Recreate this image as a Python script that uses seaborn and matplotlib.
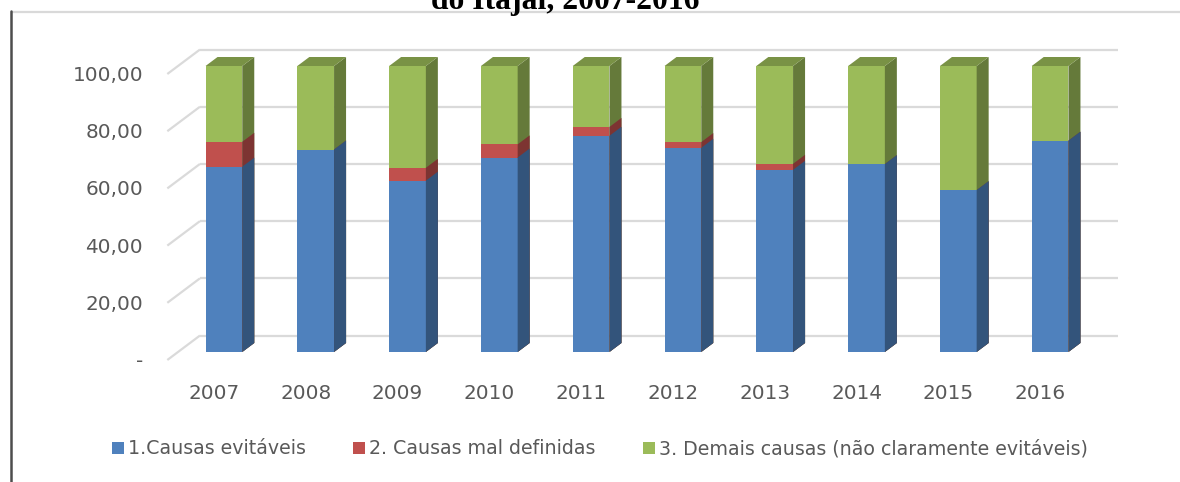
import numpy as np
import matplotlib
matplotlib.use("Agg")
import matplotlib.pyplot as plt
from matplotlib.patches import Polygon
from matplotlib.lines import Line2D
from matplotlib.transforms import offset_copy
import matplotlib.colors as mcolors
import seaborn as sns

# values (percent of deaths)
years = ["2007", "2008", "2009", "2010", "2011", "2012", "2013", "2014", "2015", "2016"]
evitaveis = [64.8, 70.8, 59.9, 68.0, 75.6, 71.4, 63.7, 65.7, 56.6, 73.9]
mal_definidas = [8.7, 0.0, 4.5, 4.6, 3.1, 2.0, 2.1, 0.0, 0.0, 0.0]
demais = [26.5, 29.2, 35.6, 27.4, 21.3, 26.6, 34.2, 34.3, 43.4, 26.1]

series_names = ["1.Causas evitáveis", "2. Causas mal definidas",
                "3. Demais causas (não claramente evitáveis)"]
series_colors = ["#4F81BD", "#C0504D", "#9BBB59"]
ytick_values = [0, 20, 40, 60, 80, 100]
ytick_labels = ["-", "20,00", "40,00", "60,00", "80,00", "100,00"]
title = "do Itajaí, 2007-2016"

sns.set_style("white")
plt.rcParams['font.family'] = ['DejaVu Sans']

W, H = 1180, 482
fig = plt.figure(figsize=(W / 100, H / 100), dpi=100)
fig.patch.set_facecolor("white")
ax = fig.add_axes([178 / W, (H - 352) / H, (1096 - 178) / W, 286 / H])
ax.axis("off")

# cumulative heights, drawn from the top segment down so lower ones sit in front
stacks = np.cumsum([evitaveis, mal_definidas, demais], axis=0)
layers = []
for j, k in enumerate([2, 1, 0]):
    n0 = len(ax.patches)
    sns.barplot(x=years, y=stacks[k], color=series_colors[k], saturation=1,
                width=0.4, linewidth=0, errorbar=None, label=series_names[k],
                zorder=3 + j, ax=ax)
    layers.append((j, k, ax.patches[n0:]))

ax.set_xlim(-0.5, len(years) - 0.5)
ax.set_ylim(0, 100)
if ax.get_legend() is not None:
    ax.get_legend().remove()

# depth vector of the fake 3D (12 px right, 9 px up) in data units
inv = ax.transData.inverted()
o = ax.transData.transform((0, 0))
ddx, ddy = inv.transform(o + np.array([12, 9])) - inv.transform(o)


def shade(c, f):
    r, g, b = mcolors.to_rgb(c)
    return (r * f, g * f, b * f)


for j, k, patches in layers:
    for p in patches:
        x0, w, h = p.get_x(), p.get_width(), p.get_height()
        x1 = x0 + w
        side = [(x1, 0), (x1 + ddx, ddy), (x1 + ddx, h + ddy), (x1, h)]
        ax.add_patch(Polygon(side, closed=True, facecolor=shade(series_colors[k], 0.65),
                             edgecolor="none", zorder=3 + j, clip_on=False))
        if j == 0:
            top = [(x0, h), (x1, h), (x1 + ddx, h + ddy), (x0 + ddx, h + ddy)]
            ax.add_patch(Polygon(top, closed=True, facecolor=shade(series_colors[k], 0.78),
                                 edgecolor="none", zorder=3, clip_on=False))
        p.set_clip_on(False)

# back wall gridlines and the left diagonals
wall, floor = 1.83, -0.89
x_left, x_right = ax.get_xlim()
grid_kw = dict(color="#DADADA", lw=1.6, zorder=1, clip_on=False, solid_capstyle="butt")
for v in ytick_values:
    ax.plot([x_left + wall * ddx, x_right + wall * ddx], [v + wall * ddy] * 2, **grid_kw)
    ax.plot([x_left + floor * ddx, x_left + wall * ddx],
            [v + floor * ddy, v + wall * ddy], **grid_kw)

tick_color = "#595959"
ytr = offset_copy(ax.transData, fig=fig, x=-35, y=-15, units="dots")
for v, lab in zip(ytick_values, ytick_labels):
    ax.text(x_left, v, lab, transform=ytr, ha="right", va="baseline",
            fontsize=14.4, color=tick_color)

xtr = offset_copy(ax.transData, fig=fig, x=-10, y=-47, units="dots")
for i, yr in enumerate(years):
    ax.text(i, 0, yr, transform=xtr, ha="center", va="baseline",
            fontsize=14.4, color=tick_color)

handles, labels = ax.get_legend_handles_labels()
fig.legend(handles[::-1], labels[::-1], loc="center", ncol=3, frameon=False,
           bbox_to_anchor=(600 / W, 1 - 449 / H), fontsize=13.7,
           labelcolor=tick_color, handlelength=0.64, handleheight=0.64,
           handletextpad=0.2, columnspacing=2.5)

# title (cut off at the top in the source) and outer frame
fig.text(565 / W, 1 - 9.5 / H, title, ha="center", va="baseline",
         fontsize=22.75, fontweight="bold", family="Liberation Serif", color="black")
fig.add_artist(Line2D([12 / W, 1], [1 - 12 / H] * 2, transform=fig.transFigure,
                      color="#D9D9D9", lw=1.6))
fig.add_artist(Line2D([11 / W, 11 / W], [0, 1 - 11 / H], transform=fig.transFigure,
                      color="#4D4D4D", lw=1.8))

fig.savefig("out.png", dpi=100)
